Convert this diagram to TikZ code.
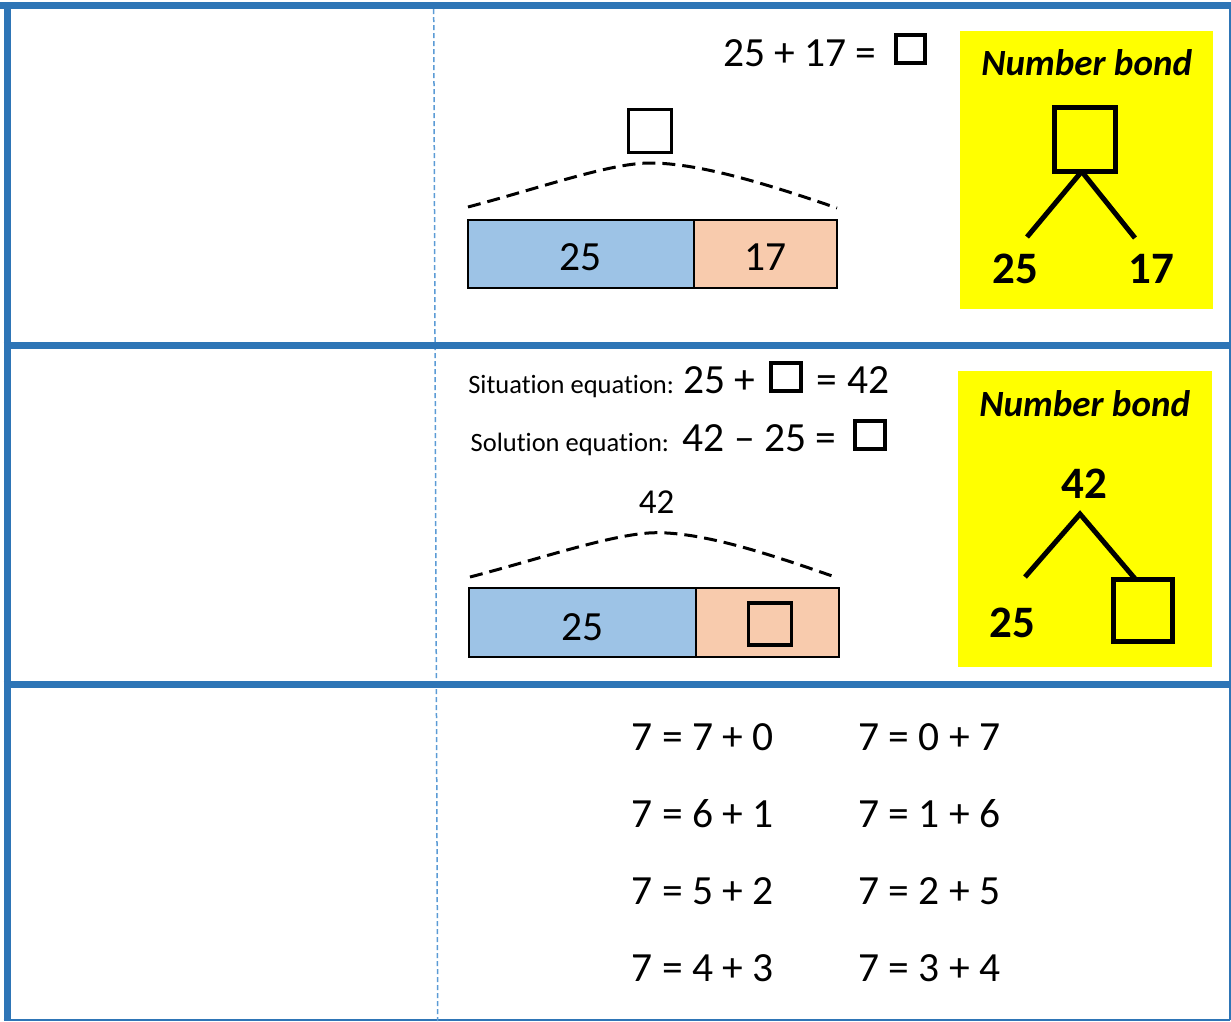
\documentclass[tikz,border=0pt]{standalone}
\usepackage{fontspec}
\setmainfont{Carlito}[Ligatures=NoCommon]
\definecolor{frameblue}{HTML}{2E75B6}
\definecolor{dashblue}{HTML}{5B9BD5}
\definecolor{barblue}{HTML}{9DC3E6}
\definecolor{barorange}{HTML}{F8CBAD}
\definecolor{bondyellow}{HTML}{FFFF00}
\newcommand\fsBig{\fontsize{41.5}{48}\selectfont}
\newcommand\fsSmall{\fontsize{26.5}{30}\selectfont}
\newcommand\fsMid{\fontsize{35}{40}\selectfont}
\newcommand\fsBond{\fontsize{45}{52}\selectfont\bfseries}
\newcommand\fsTitle{\fontsize{37}{42}\selectfont\bfseries\itshape}
\begin{document}
\begin{tikzpicture}[x=1pt,y=-1pt,
  thickframe/.style={draw=frameblue,line width=7pt},
  thinframe/.style={draw=frameblue,line width=2pt},
  colsep/.style={draw=dashblue,line width=1.5pt,dash pattern=on 5pt off 3pt},
  txt/.style={anchor=base west,inner sep=0pt,outer sep=0pt},
  ctxt/.style={anchor=base,inner sep=0pt,outer sep=0pt},
  sqbox/.style={draw,inner sep=0pt,outer sep=0pt},
  barseg/.style={draw,line width=2pt,inner sep=0pt,outer sep=0pt},
  brace/.style={draw,dash pattern=on 13pt off 7pt,line width=3pt},
  bondbg/.style={fill=bondyellow,draw=none,inner sep=0pt,outer sep=0pt},
  bondline/.style={draw,line width=5pt}]
\useasboundingbox (0,0) rectangle (1231,1021);

% ---------- frame ----------
\coordinate (tl) at (0,5.5);
\coordinate (tr) at (1231,5.5);
\coordinate (lt) at (7,2);
\coordinate (lb) at (7,1021);
\coordinate (s1l) at (3.5,345.3);
\coordinate (s1r) at (1231,345.3);
\coordinate (s2l) at (3.5,684.5);
\coordinate (s2r) at (1231,684.5);
\coordinate (rt) at (1230,5);
\coordinate (rb) at (1230,1020);
\coordinate (bl) at (3.5,1020);
\coordinate (vt) at (433.7,9);
\coordinate (vb) at (437.7,1021);
\draw[thinframe] (rt) -- (rb);
\draw[thinframe] (bl) -- (rb);
\draw[colsep] (vt) -- (vb);
\draw[thickframe] (tl) -- (tr);
\draw[thickframe] (s1l) -- (s1r);
\draw[thickframe] (s2l) -- (s2r);
\draw[thickframe] (lt) -- (lb);

% ---------- row 1 ----------
\node[txt,font=\fsBig] (eqA) at (723,66) {25 + 17 =};
\node[sqbox,line width=4pt,minimum width=29pt,minimum height=28pt] (eqAbox) at (910.5,49) {};

\node[sqbox,line width=3.5pt,minimum width=43pt,minimum height=43pt] (topbox) at (650,131) {};
\coordinate (bAl) at (468,207);
\coordinate (bAp) at (650,163);
\coordinate (bAr) at (837,208);
\draw[brace] (bAl) .. controls (540,188) and (610,163) .. (bAp)
  .. controls (700,163) and (770,185) .. (bAr);
\node[barseg,fill=barblue,minimum width=226pt,minimum height=68pt] (barA1) at (581,253.5) {};
\node[barseg,fill=barorange,minimum width=143pt,minimum height=68pt] (barA2) at (765.5,253.5) {};
\node[ctxt,font=\fsBig] (barA1t) at (580.5,270.7) {25};
\node[ctxt,font=\fsBig] (barA2t) at (765.5,270.5) {17};

\node[bondbg,minimum width=253pt,minimum height=278pt] (bondA) at (1086.5,170) {};
\node[ctxt,font=\fsTitle] (bondAtitle) at (1086.7,75) {Number bond};
\node[sqbox,line width=5pt,minimum width=61pt,minimum height=64pt] (bondAbox) at (1084.7,139.5) {};
\coordinate (bondAl) at (1027,237);
\coordinate (bondAr) at (1135,238);
\draw[bondline] ([xshift=-3pt]bondAbox.south) -- (bondAl);
\draw[bondline] ([xshift=-3pt]bondAbox.south) -- (bondAr);
\node[ctxt,font=\fsBond] (bondA25) at (1015,283.3) {25};
\node[ctxt,font=\fsBond] (bondA17) at (1151.3,283.3) {17};

% ---------- row 2 ----------
\node[txt,font=\fsSmall] (sitlab) at (468.3,393.3) {Situation equation:};
\node[txt,font=\fsBig] (sitA) at (683.3,393.3) {25 +};
\node[sqbox,line width=4pt,minimum width=30pt,minimum height=28pt] (sitbox) at (786.3,376.7) {};
\node[anchor=base east,inner sep=0pt,font=\fsBig] (sitB) at (889.3,393.3) {= 42};

\node[txt,font=\fsSmall] (sollab) at (470.7,451) {Solution equation:};
\node[txt,font=\fsBig] (solA) at (682.7,451) {42 \textendash{} 25 =};
\node[sqbox,line width=4pt,minimum width=30pt,minimum height=28pt] (solbox) at (870.3,434.5) {};

\node[ctxt,font=\fsMid] (lab42) at (656.7,513.3) {42};
\coordinate (bBl) at (470,577);
\coordinate (bBp) at (656.7,532.7);
\coordinate (bBr) at (838,578);
\draw[brace] (bBl) .. controls (543,558) and (616,532.7) .. (bBp)
  .. controls (706,532.7) and (772,555) .. (bBr);
\node[barseg,fill=barblue,minimum width=227pt,minimum height=69pt] (barB1) at (582.6,622.8) {};
\node[barseg,fill=barorange,minimum width=143pt,minimum height=69pt] (barB2) at (767.6,622.8) {};
\node[ctxt,font=\fsBig] (barB1t) at (582.5,640) {25};
\node[sqbox,line width=3.5pt,minimum width=43pt,minimum height=42pt] (barB2box) at (770,623.8) {};

\node[bondbg,minimum width=254pt,minimum height=296pt] (bondB) at (1085,519) {};
\node[ctxt,font=\fsTitle] (bondBtitle) at (1084.7,416) {Number bond};
\node[ctxt,font=\fsBond] (bondB42) at (1084.3,498.3) {42};
\coordinate (bondBtop) at (1080,514);
\coordinate (bondBl) at (1025,577);
\node[sqbox,line width=5pt,minimum width=59pt,minimum height=62pt] (bondBbox) at (1143,610.3) {};
\coordinate (bondBr) at ([xshift=22pt]bondBbox.north west);
\draw[bondline] (bondBl) -- (bondBtop) -- (bondBr);
\node[ctxt,font=\fsBond] (bondB25) at (1012.5,637.7) {25};

% ---------- row 3 ----------
\node[txt,font=\fsBig] (r1a) at (631.7,750) {7 = 7 + 0};
\node[txt,font=\fsBig] (r1b) at (858.3,750) {7 = 0 + 7};
\node[txt,font=\fsBig] (r2a) at (631.7,827.3) {7 = 6 + 1};
\node[txt,font=\fsBig] (r2b) at (858.3,827.3) {7 = 1 + 6};
\node[txt,font=\fsBig] (r3a) at (631.7,904) {7 = 5 + 2};
\node[txt,font=\fsBig] (r3b) at (858.3,904) {7 = 2 + 5};
\node[txt,font=\fsBig] (r4a) at (631.7,981.7) {7 = 4 + 3};
\node[txt,font=\fsBig] (r4b) at (858.3,981.7) {7 = 3 + 4};
\end{tikzpicture}
\end{document}
